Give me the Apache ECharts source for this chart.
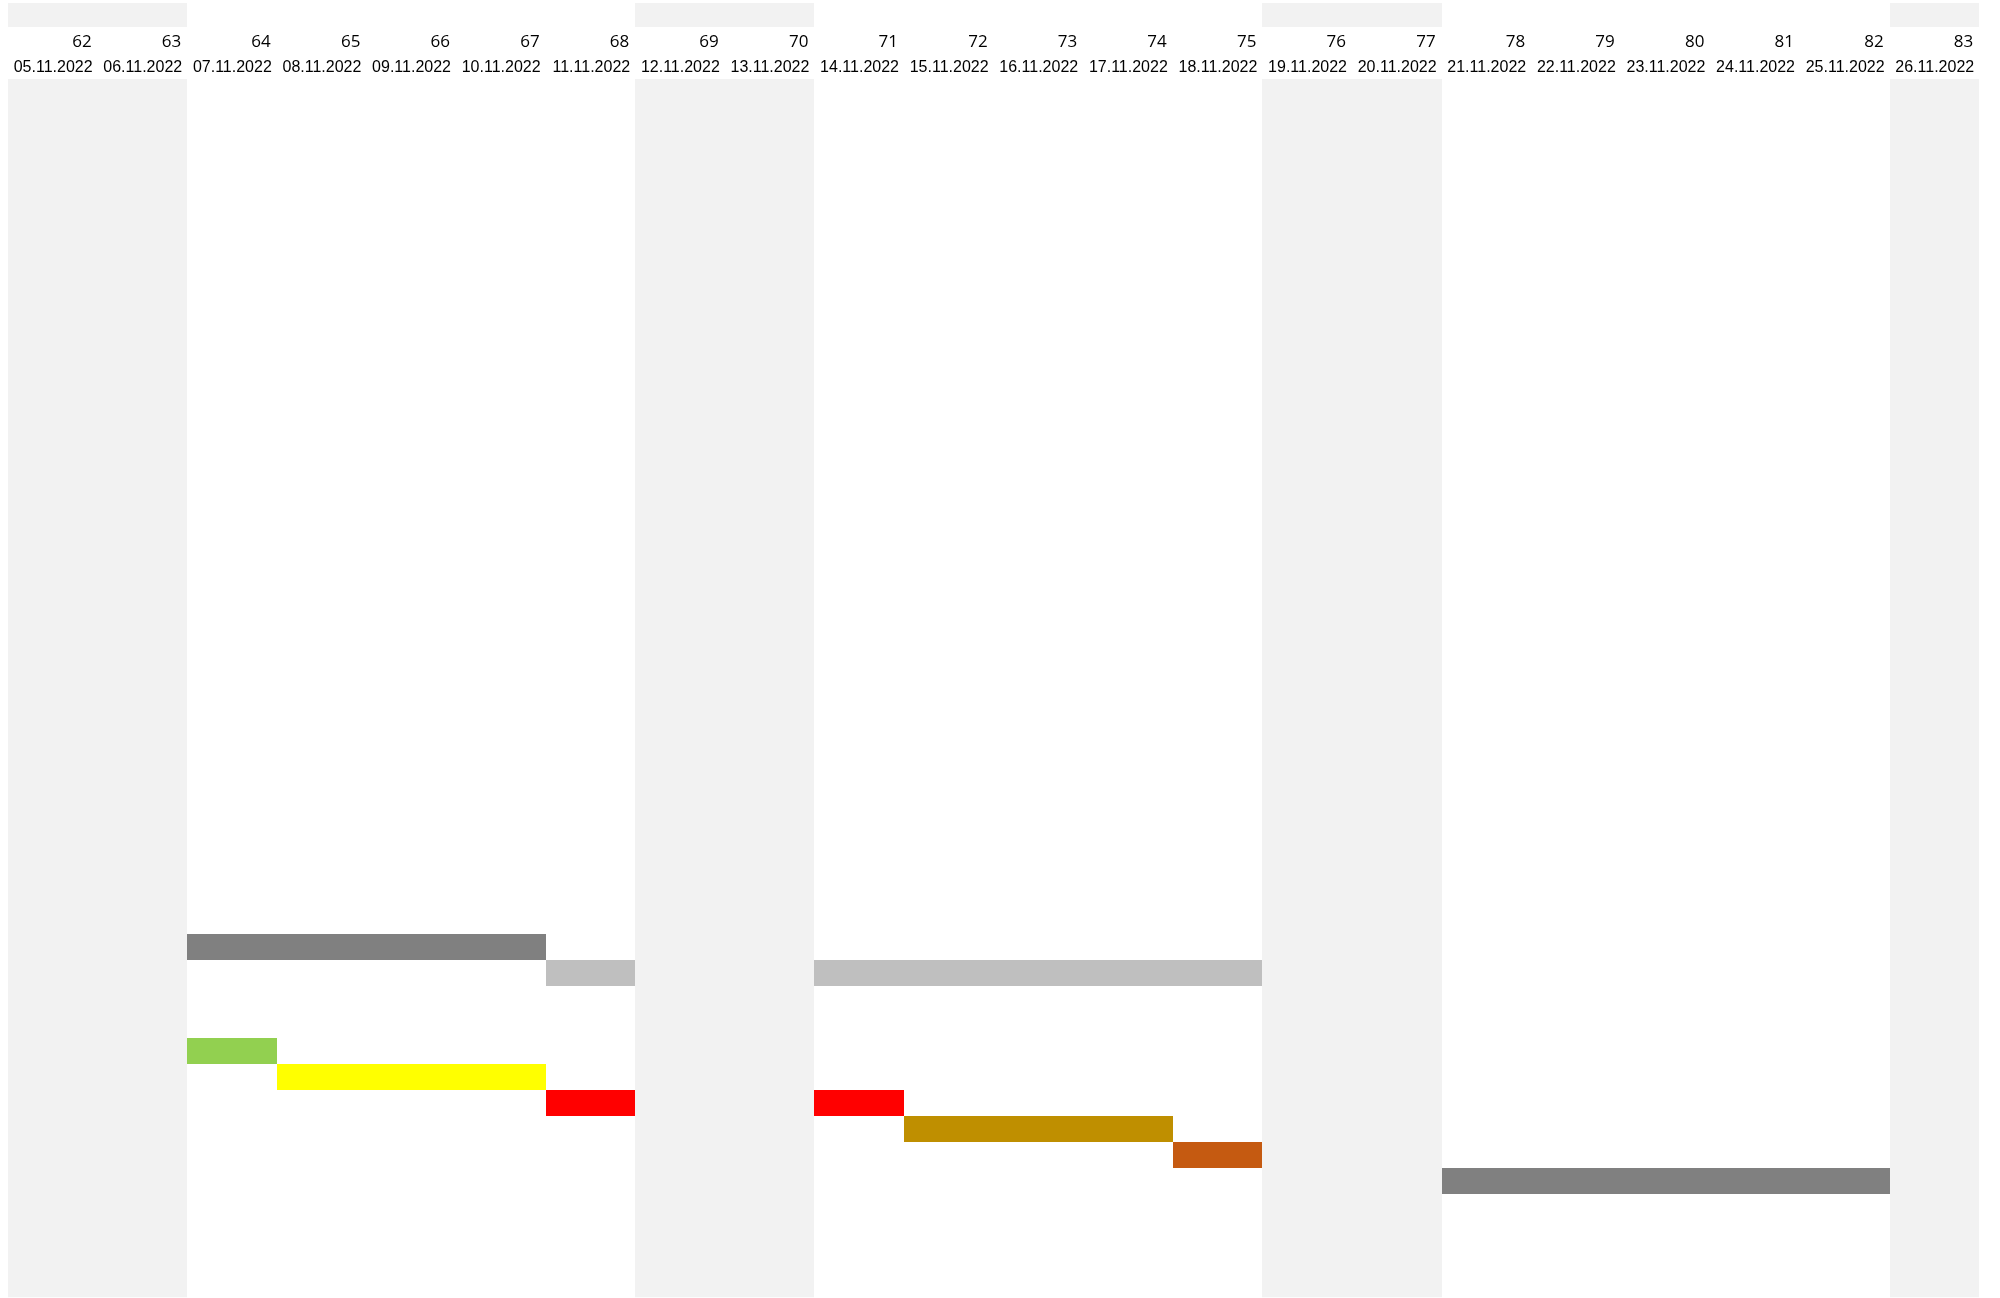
<!DOCTYPE html>
<html>
<head>
<meta charset="utf-8">
<script src="https://cdn.jsdelivr.net/npm/echarts@6/dist/echarts.min.js"></script>
<style>
  html, body { margin: 0; padding: 0; background: #fff; }
  #chart { width: 2000px; height: 1298px; }
</style>
</head>
<body>
<div id="chart"></div>
<script>
'use strict';
// Gantt-style plan, 05.11.2022 - 26.11.2022, one column per day.
const dayNumbers = [62, 63, 64, 65, 66, 67, 68, 69, 70, 71, 72, 73, 74, 75, 76, 77, 78, 79, 80, 81, 82, 83];
const dates = ['05.11.2022', '06.11.2022', '07.11.2022', '08.11.2022', '09.11.2022', '10.11.2022', '11.11.2022',
  '12.11.2022', '13.11.2022', '14.11.2022', '15.11.2022', '16.11.2022', '17.11.2022', '18.11.2022',
  '19.11.2022', '20.11.2022', '21.11.2022', '22.11.2022', '23.11.2022', '24.11.2022', '25.11.2022', '26.11.2022'];
const weekendDates = ['05.11.2022', '06.11.2022', '12.11.2022', '13.11.2022', '19.11.2022', '20.11.2022', '26.11.2022'];

// tasks: sheet row, first day, last day (weekends get shaded over)
const taskRows = [33, 34, 37, 38, 39, 40, 41, 42];
const taskStart = ['07.11.2022', '11.11.2022', '07.11.2022', '08.11.2022', '11.11.2022', '15.11.2022', '18.11.2022', '21.11.2022'];
const taskEnd = ['10.11.2022', '18.11.2022', '07.11.2022', '10.11.2022', '14.11.2022', '17.11.2022', '18.11.2022', '25.11.2022'];
const taskColors = ['#808080', '#BFBFBF', '#92D050', '#FFFF00', '#FF0000', '#BF8F00', '#C55A11', '#808080'];

const ROWS = 47;
const dayIdx = (d) => dates.indexOf(d);
const weekendData = weekendDates.map((d) => [dayIdx(d)]);
const taskData = taskRows.map((r, i) => [dayIdx(taskStart[i]), dayIdx(taskEnd[i]), r]);

function weekendItem(params, api) {
  const x0 = Math.round(api.coord([api.value(0), 0])[0]);
  const x1 = Math.round(api.coord([api.value(0) + 1, 0])[0]);
  const cs = params.coordSys;
  return { type: 'rect', shape: { x: x0, y: cs.y, width: x1 - x0, height: cs.height }, style: { fill: '#F2F2F2' } };
}
function taskItem(params, api) {
  const s = api.coord([api.value(0), api.value(2)]);
  const e = api.coord([api.value(1) + 1, api.value(2) + 1]);
  const x = Math.round(s[0]), y = Math.round(s[1]);
  return { type: 'rect', shape: { x, y, width: Math.round(e[0]) - x, height: Math.round(e[1]) - y },
    style: { fill: taskColors[params.dataIndex] } };
}

const hidden = { show: false };
const dayAxis = (grid) => ({ type: 'value', gridIndex: grid, min: 0, max: dates.length, interval: 1,
  axisLine: hidden, axisTick: hidden, splitLine: hidden });

const chart = echarts.init(document.getElementById('chart'), null, { renderer: 'canvas' });
chart.setOption({
  animation: false,
  backgroundColor: '#fff',
  grid: [
    { left: 8, right: 20.8, top: 3, height: 24 },
    { left: 8, right: 20.8, top: 79, height: ROWS * 25.92 },
  ],
  xAxis: [
    Object.assign(dayAxis(0), { axisLabel: hidden }),
    Object.assign(dayAxis(1), {
      position: 'top',
      axisLabel: { formatter: (v) => (v >= 1 ? dates[v - 1] : ''), align: 'right', verticalAlign: 'middle',
        padding: [0, 5, 0, 0], margin: 11, fontFamily: 'Liberation Sans', fontSize: 16, color: '#000' },
    }),
    Object.assign(dayAxis(1), {
      position: 'top', offset: 26,
      axisLabel: { formatter: (v) => (v >= 1 ? String(dayNumbers[v - 1]) : ''), align: 'right', verticalAlign: 'middle',
        padding: [0, 6, 0, 0], margin: 11, fontFamily: 'Open Sans', fontSize: 17, color: '#000' },
    }),
  ],
  yAxis: [
    { type: 'value', gridIndex: 0, min: 0, max: 1, show: false },
    { type: 'value', gridIndex: 1, min: 0, max: ROWS, inverse: true, show: false },
  ],
  series: [
    { type: 'custom', xAxisIndex: 0, yAxisIndex: 0, renderItem: weekendItem, data: weekendData, encode: { x: 0 }, silent: true },
    { type: 'custom', xAxisIndex: 1, yAxisIndex: 1, renderItem: taskItem, data: taskData, encode: { x: [0, 1], y: 2 }, z: 2 },
    { type: 'custom', xAxisIndex: 1, yAxisIndex: 1, renderItem: weekendItem, data: weekendData, encode: { x: 0 }, z: 3, silent: true },
  ],
});
</script>
</body>
</html>
